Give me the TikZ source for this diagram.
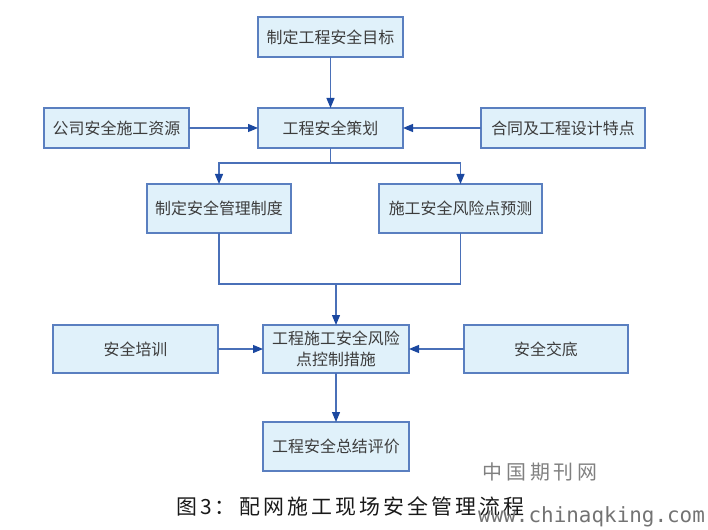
\documentclass[tikz,border=0pt]{standalone}
\usepackage{fontspec}
\setmainfont{Noto Sans CJK SC}
\newfontfamily\capfont{Noto Sans CJK SC}[LetterSpace=15]
\newfontfamily\markfont{Noto Sans CJK SC}[LetterSpace=20]
\newfontfamily\urlfont{DejaVu Sans Mono}
\usetikzlibrary{arrows.meta}
\definecolor{boxfill}{HTML}{E0F1FA}
\definecolor{boxline}{HTML}{5A7FC0}
\definecolor{flowline}{HTML}{4A70B8}
\definecolor{tipblue}{HTML}{1B48A0}
\definecolor{boxtext}{HTML}{3C3C3C}
\tikzset{
	stepbox/.style={draw=boxline, line width=1.4bp, fill=boxfill, text=boxtext, inner sep=0pt, outer sep=0pt, font=\fontsize{16}{21}\selectfont, align=center},
	flow/.style={draw=flowline, line width=1.2bp},
	flowarr/.style={flow, -{Triangle[length=10bp,width=8bp,color=tipblue]}},
}

\begin{document}
\begin{tikzpicture}[x=1bp,y=-1bp]
			%%%%% START %%%%%
			\useasboundingbox (0,0) rectangle (708,530);
			
			\node[stepbox, minimum width=145bp, minimum height=40bp] (goal) at (330.5,37) {制定工程安全目标};
			\node[stepbox, minimum width=145bp, minimum height=40bp] (plan) at (330.5,128) {工程安全策划};
			\node[stepbox, minimum width=145bp, minimum height=40bp] (res) at (116.5,128) {公司安全施工资源};
			\node[stepbox, minimum width=164bp, minimum height=40bp] (contract) at (563,128) {合同及工程设计特点};
			
			\node[stepbox, minimum width=144bp, minimum height=49bp] (rules) at (219,208.5) {制定安全管理制度};
			\node[stepbox, minimum width=163bp, minimum height=49bp] (risk) at (460.5,208.5) {施工安全风险点预测};
			
			\node[stepbox, minimum width=146bp, minimum height=48bp] (ctrl) at (336,349) {工程施工安全风险\\点控制措施};
			\node[stepbox, minimum width=165bp, minimum height=48bp] (train) at (135.5,349) {安全培训};
			\node[stepbox, minimum width=164bp, minimum height=48bp] (brief) at (546,349) {安全交底};
			
			\node[stepbox, minimum width=146bp, minimum height=49bp] (eval) at (336,446.5) {工程安全总结评价};
			
			\draw[flowarr] (goal) -- (plan);
			\draw[flowarr] (res) -- (plan);
			\draw[flowarr] (contract) -- (plan);
			
			\coordinate (split) at (330.5,163);
			\draw[flow] (plan) -- (split);
			\draw[flowarr] (split) -| (rules);
			\draw[flowarr] (split) -| (risk);
			
			\coordinate (join) at (336,284);
			\draw[flow] (rules) |- (join);
			\draw[flow] (risk) |- (join);
			\draw[flowarr] (join) -- (ctrl);
			
			\draw[flowarr] (train) -- (ctrl);
			\draw[flowarr] (brief) -- (ctrl);
			\draw[flowarr] (ctrl) -- (eval);
			
			\node[anchor=west, inner sep=0pt, text=black!50] (markcn) at (482,472) {\markfont\fontsize{20}{20}\selectfont 中国期刊网};
			\node[anchor=west, inner sep=0pt, text=black!90] (caption) at (176,506) {\capfont\fontsize{21}{21}\selectfont 图3：配网施工现场安全管理流程};
			\node[anchor=west, inner sep=0pt, text=black!55] (markurl) at (478,517) {\urlfont\fontsize{21}{21}\selectfont www.chinaqking.com};
			
			%%%%% END %%%%%
\end{tikzpicture}
\end{document}
